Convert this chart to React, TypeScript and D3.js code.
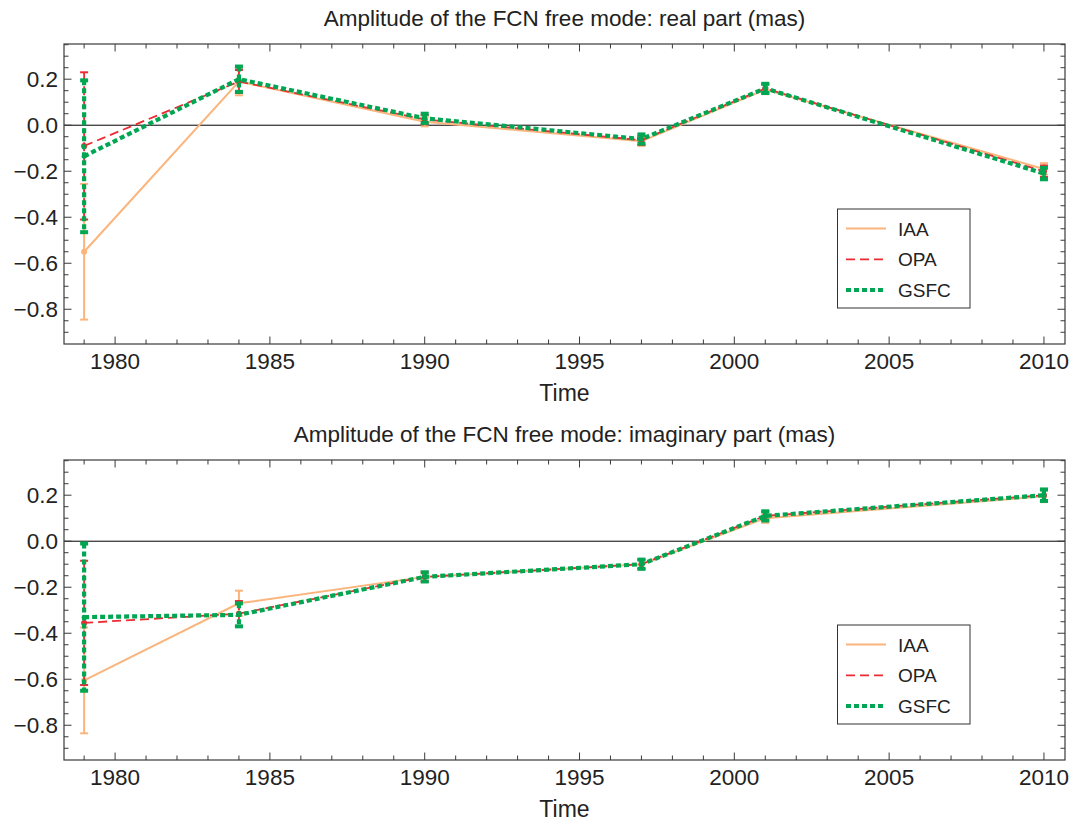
import React from "react";
import * as d3 from "d3";

const years = [1979, 1984, 1990, 1997, 2001, 2010];

const realIAA = [-0.55, 0.19, 0.015, -0.07, 0.155, -0.19];
const realIAAErr = [0.295, 0.06, 0.02, 0.02, 0.02, 0.025];
const realOPA = [-0.09, 0.19, 0.025, -0.065, 0.16, -0.2];
const realOPAErr = [0.32, 0.05, 0.02, 0.02, 0.02, 0.025];
const realGSFC = [-0.135, 0.2, 0.03, -0.06, 0.16, -0.21];
const realGSFCErr = [0.33, 0.055, 0.02, 0.02, 0.02, 0.025];

const imagIAA = [-0.605, -0.27, -0.155, -0.1, 0.1, 0.195];
const imagIAAErr = [0.23, 0.055, 0.02, 0.02, 0.02, 0.025];
const imagOPA = [-0.355, -0.315, -0.155, -0.1, 0.11, 0.2];
const imagOPAErr = [0.27, 0.055, 0.02, 0.02, 0.02, 0.025];
const imagGSFC = [-0.33, -0.32, -0.155, -0.1, 0.11, 0.2];
const imagGSFCErr = [0.32, 0.05, 0.02, 0.02, 0.02, 0.025];

const seriesNames = ["IAA", "OPA", "GSFC"];
const xMajorTicks = [1980, 1985, 1990, 1995, 2000, 2005, 2010];
const yMajorTicks = [-0.8, -0.6, -0.4, -0.2, 0.0, 0.2];

const styles = [
  { color: "#FBB57C", width: 2, dash: "none" },
  { color: "#EC2B33", width: 1.8, dash: "9,5" },
  { color: "#00A651", width: 4.2, dash: "5,3" },
];

const FONT = "'Liberation Sans', Arial, Helvetica, sans-serif";
const W = 1073;
const H = 823;
const left = 64;
const right = 1065;

type Panel = {
  title: string;
  top: number;
  values: number[][];
  errs: number[][];
};

const panels: Panel[] = [
  {
    title: "Amplitude of the FCN free mode: real part (mas)",
    top: 44,
    values: [realIAA, realOPA, realGSFC],
    errs: [realIAAErr, realOPAErr, realGSFCErr],
  },
  {
    title: "Amplitude of the FCN free mode: imaginary part (mas)",
    top: 460,
    values: [imagIAA, imagOPA, imagGSFC],
    errs: [imagIAAErr, imagOPAErr, imagGSFCErr],
  },
];

function fmt(v: number) {
  const s = Math.abs(v).toFixed(1);
  return v < -1e-9 ? "\u2212" + s : s;
}

function PanelView({ p }: { p: Panel }) {
  const h = 300;
  const x = d3.scaleLinear().domain([1978.35, 2010.68]).range([left, right]);
  const y = d3.scaleLinear().domain([-0.951, 0.353]).range([p.top + h, p.top]);
  const bottom = p.top + h;
  const xMinor = d3.range(1979, 2011, 1);
  const yMinor = d3.range(-0.9, 0.351, 0.05);
  const line = d3
    .line<number>()
    .x((_, i) => x(years[i]))
    .y((d) => y(d));
  const frameColor = "#3a3a3a";
  const cap = 4;
  return (
    <g>
      <text
        x={(left + right) / 2}
        y={p.top - 18}
        textAnchor="middle"
        fontSize={22.5}
        fontFamily={FONT}
        fill="#222"
      >
        {p.title}
      </text>
      <line x1={left} x2={right} y1={y(0)} y2={y(0)} stroke="#000" strokeWidth={1} />
      {xMinor.map((t) => {
        const major = t % 5 === 0;
        const len = major ? 7.5 : 4.5;
        return (
          <g key={"xt" + t}>
            <line x1={x(t)} x2={x(t)} y1={bottom} y2={bottom - len} stroke={frameColor} strokeWidth={1} />
            <line x1={x(t)} x2={x(t)} y1={p.top} y2={p.top + len} stroke={frameColor} strokeWidth={1} />
          </g>
        );
      })}
      {yMinor.map((t, i) => {
        const major = yMajorTicks.some((m) => Math.abs(m - t) < 1e-6);
        const len = major ? 7.5 : 4.5;
        return (
          <g key={"yt" + i}>
            <line x1={left} x2={left + len} y1={y(t)} y2={y(t)} stroke={frameColor} strokeWidth={1} />
            <line x1={right} x2={right - len} y1={y(t)} y2={y(t)} stroke={frameColor} strokeWidth={1} />
          </g>
        );
      })}
      {xMajorTicks.map((t) => (
        <text
          key={"xl" + t}
          x={x(t)}
          y={bottom + 24.5}
          textAnchor="middle"
          fontSize={22.5}
          fontFamily={FONT}
          fill="#222"
        >
          {t}
        </text>
      ))}
      {yMajorTicks.map((t) => (
        <text
          key={"yl" + t}
          x={left - 6}
          y={y(t) + 8}
          textAnchor="end"
          fontSize={22.5}
          fontFamily={FONT}
          fill="#222"
        >
          {fmt(t)}
        </text>
      ))}
      <text
        x={(left + right) / 2}
        y={bottom + 57}
        textAnchor="middle"
        fontSize={23}
        fontFamily={FONT}
        fill="#222"
      >
        Time
      </text>
      {p.values.map((vals, si) => {
        const st = styles[si];
        return (
          <g key={"s" + si}>
            <path
              d={line(vals) || ""}
              fill="none"
              stroke={st.color}
              strokeWidth={st.width}
              strokeDasharray={st.dash}
            />
            {vals.map((v, i) => {
              const e = p.errs[si][i];
              const cx = x(years[i]);
              return (
                <g key={"e" + i}>
                  <line
                    x1={cx}
                    x2={cx}
                    y1={y(v + e)}
                    y2={y(v - e)}
                    stroke={st.color}
                    strokeWidth={st.width}
                    strokeDasharray={st.dash}
                  />
                  <line x1={cx - cap} x2={cx + cap} y1={y(v + e)} y2={y(v + e)} stroke={st.color} strokeWidth={si === 2 ? 4 : 2} />
                  <line x1={cx - cap} x2={cx + cap} y1={y(v - e)} y2={y(v - e)} stroke={st.color} strokeWidth={si === 2 ? 4 : 2} />
                  <circle cx={cx} cy={y(v)} r={si === 2 ? 2.5 : 3} fill={st.color} />
                </g>
              );
            })}
          </g>
        );
      })}
      <rect x={left} y={p.top} width={right - left} height={h} fill="none" stroke={frameColor} strokeWidth={1.2} />
      <g>
        <rect
          x={837.5}
          y={p.top + 165}
          width={132.5}
          height={99}
          fill="#fff"
          stroke="#333"
          strokeWidth={1}
        />
        {seriesNames.map((n, i) => {
          const st = styles[i];
          const ly = p.top + 184.5 + i * 30.8;
          return (
            <g key={"lg" + n}>
              <line
                x1={846}
                x2={886}
                y1={ly}
                y2={ly}
                stroke={st.color}
                strokeWidth={i === 2 ? 4 : st.width}
                strokeDasharray={st.dash}
              />
              <text x={898} y={ly + 7} fontSize={19} fontFamily={FONT} fill="#222">
                {n}
              </text>
            </g>
          );
        })}
      </g>
    </g>
  );
}

export default function App() {
  return (
    <svg
      width={W}
      height={H}
      viewBox={`0 0 ${W} ${H}`}
      style={{ position: "absolute", left: 0, top: 0, background: "#fff" }}
    >
      <rect x={0} y={0} width={W} height={H} fill="#fff" />
      {panels.map((p, i) => (
        <PanelView key={i} p={p} />
      ))}
    </svg>
  );
}
